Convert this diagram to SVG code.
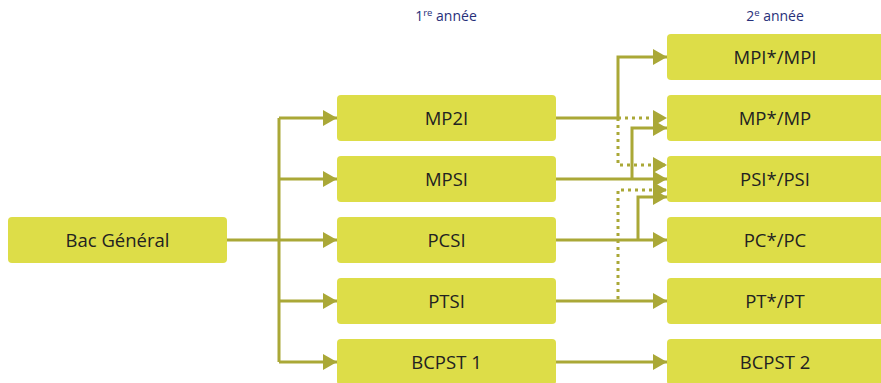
<svg xmlns="http://www.w3.org/2000/svg" width="881" height="383" viewBox="0 0 881 383">
<defs>
<marker id="ah" markerUnits="userSpaceOnUse" markerWidth="14" markerHeight="16" refX="14" refY="8" orient="auto">
<path d="M0,0 L14,8 L0,16 z" fill="#aaa837"/>
</marker>
<style>
.box{fill:#dddd48}
.lbl{font-family:"Open Sans","Liberation Sans",sans-serif;font-size:18.5px;fill:#222;text-anchor:middle}
.hdr{font-family:"Open Sans","Liberation Sans",sans-serif;font-size:14px;fill:#27307a;text-anchor:middle}
.ln{fill:none;stroke:#aaa837;stroke-width:3}
.dot{fill:none;stroke:#aaa837;stroke-width:3;stroke-dasharray:3 4}
.arr{marker-end:url(#ah)}
</style>
</defs>
<rect width="881" height="383" fill="#ffffff"/>
<text class="hdr" x="446" y="21">1<tspan font-size="9.5" dy="-5">re</tspan><tspan dy="5"> année</tspan></text>
<text class="hdr" x="775" y="21">2<tspan font-size="9.5" dy="-5">e</tspan><tspan dy="5"> année</tspan></text>
<g id="connectors">
<path class="ln" d="M227,240 H279 M279,118 V362"/>
<path class="ln arr" d="M279,118 H337"/>
<path class="ln arr" d="M279,179 H337"/>
<path class="ln arr" d="M279,240 H337"/>
<path class="ln arr" d="M279,301 H337"/>
<path class="ln arr" d="M279,362 H337"/>
<path class="ln arr" d="M556,118 H618 V57 H667"/>
<path class="dot arr" d="M618,118 H667"/>
<path class="dot arr" d="M618,118 V165 H667"/>
<path class="ln arr" d="M556,179 H667"/>
<path class="ln arr" d="M632,179 V128 H667"/>
<path class="ln arr" d="M556,240 H667"/>
<path class="ln arr" d="M638,240 V197 H667"/>
<path class="ln arr" d="M556,301 H667"/>
<path class="dot arr" d="M618,299 V190 H667"/>
<path class="ln arr" d="M556,362 H667"/>
</g>
<g id="bac"><rect class="box" x="8" y="217" width="219" height="46" rx="4"/><text class="lbl" x="117.5" y="247">Bac Général</text></g>
<g id="mp2i"><rect class="box" x="337" y="95" width="219" height="46" rx="4"/><text class="lbl" x="446.5" y="125">MP2I</text></g>
<g id="mpsi"><rect class="box" x="337" y="156" width="219" height="46" rx="4"/><text class="lbl" x="446.5" y="186">MPSI</text></g>
<g id="pcsi"><rect class="box" x="337" y="217" width="219" height="46" rx="4"/><text class="lbl" x="446.5" y="247">PCSI</text></g>
<g id="ptsi"><rect class="box" x="337" y="278" width="219" height="46" rx="4"/><text class="lbl" x="446.5" y="308">PTSI</text></g>
<g id="bcpst1"><rect class="box" x="337" y="339" width="219" height="46" rx="4"/><text class="lbl" x="446.5" y="369">BCPST 1</text></g>
<g id="mpi"><rect class="box" x="667" y="34" width="219" height="46" rx="4"/><text class="lbl" x="775" y="64">MPI*/MPI</text></g>
<g id="mp"><rect class="box" x="667" y="95" width="219" height="46" rx="4"/><text class="lbl" x="775" y="125">MP*/MP</text></g>
<g id="psi"><rect class="box" x="667" y="156" width="219" height="46" rx="4"/><text class="lbl" x="775" y="186">PSI*/PSI</text></g>
<g id="pc"><rect class="box" x="667" y="217" width="219" height="46" rx="4"/><text class="lbl" x="775" y="247">PC*/PC</text></g>
<g id="pt"><rect class="box" x="667" y="278" width="219" height="46" rx="4"/><text class="lbl" x="775" y="308">PT*/PT</text></g>
<g id="bcpst2"><rect class="box" x="667" y="339" width="219" height="46" rx="4"/><text class="lbl" x="775" y="369">BCPST 2</text></g>
</svg>
